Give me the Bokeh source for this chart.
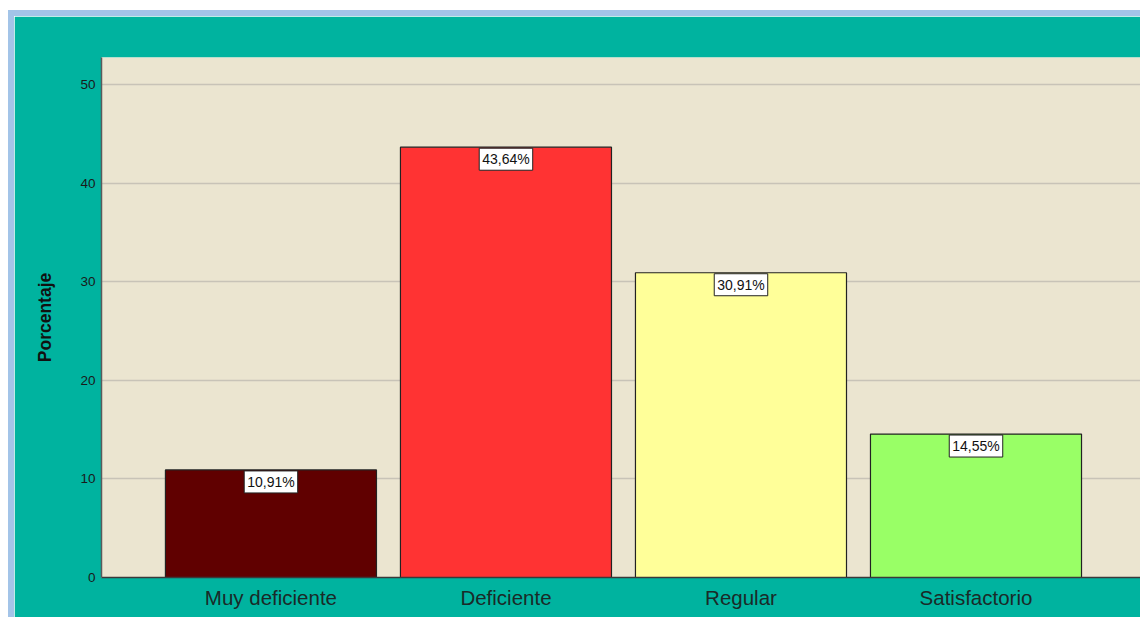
from bokeh.plotting import figure
from bokeh.models import ColumnDataSource, Label, FixedTicker, Range1d
from bokeh.embed import file_html
from bokeh.resources import INLINE

categories = ["Muy deficiente", "Deficiente", "Regular", "Satisfactorio"]
values = [10.91, 43.64, 30.91, 14.55]
labels = ["10,91%", "43,64%", "30,91%", "14,55%"]
colors = ["#600000", "#FF3333", "#FFFF99", "#99FF66"]
y_ticks = [0, 10, 20, 30, 40, 50]

xs = [i + 1 for i in range(len(categories))]
src = ColumnDataSource(dict(x=xs, top=values, label=labels, color=colors))

p = figure(width=1132, height=607, output_backend="svg", toolbar_location=None,
           x_range=Range1d(0.279, 4.717), y_range=Range1d(0, 52.74),
           min_border_left=87, min_border_right=2, min_border_top=41, min_border_bottom=46)
p.styles = {"margin-top": "10px", "margin-left": "8px",
            "border-top": "6px solid #A3C4E8", "border-left": "6px solid #A3C4E8"}

p.background_fill_color = "#EBE5D0"
p.border_fill_color = "#00B39F"
p.outline_line_color = None

p.vbar(x="x", top="top", width=0.898, bottom=0, source=src, fill_color="color",
       line_color="#222222", line_width=1.2)

for x, v, t in zip(xs, values, labels):
    p.add_layout(Label(x=x, y=v, text=t, text_align="center",
                       text_baseline="top", y_offset=-1, text_font_size="14px",
                       text_font="Liberation Sans", text_color="#111111",
                       background_fill_color="white", border_line_color="#222222",
                       border_line_width=1, padding=3))

p.xgrid.visible = False
p.ygrid.ticker = FixedTicker(ticks=y_ticks)
p.ygrid.grid_line_color = "#C8C3B7"
p.ygrid.grid_line_width = 1.5

p.yaxis.ticker = FixedTicker(ticks=y_ticks)
p.yaxis.axis_label = "Porcentaje"
p.yaxis.axis_label_text_font = "Liberation Sans"
p.yaxis.axis_label_text_font_style = "bold"
p.yaxis.axis_label_text_font_size = "17.5px"
p.yaxis.axis_label_text_color = "#111111"
p.yaxis.axis_label_standoff = 22
p.yaxis.major_label_text_font = "Liberation Sans"
p.yaxis.major_label_text_font_size = "13.5px"
p.yaxis.major_label_text_color = "#1a1a1a"
p.yaxis.major_tick_line_color = None
p.yaxis.minor_tick_line_color = None
p.yaxis.major_tick_out = 0
p.yaxis.major_tick_in = 0
p.yaxis.major_label_standoff = 6
p.yaxis.axis_line_color = "#5a5a5a"
p.yaxis.axis_line_width = 1.5

p.xaxis.ticker = FixedTicker(ticks=xs)
p.xaxis.major_label_overrides = {x: c for x, c in zip(xs, categories)}
p.xaxis.major_label_text_font = "Liberation Sans"
p.xaxis.major_label_text_font_size = "20.5px"
p.xaxis.major_label_text_color = "#1a2a28"
p.xaxis.major_tick_line_color = None
p.xaxis.minor_tick_line_color = None
p.xaxis.major_tick_out = 0
p.xaxis.major_tick_in = 0
p.xaxis.major_label_standoff = 8
p.xaxis.axis_line_color = "#3a3a3a"
p.xaxis.axis_line_width = 1.5

open("out.html", "w").write(file_html(p, INLINE))
